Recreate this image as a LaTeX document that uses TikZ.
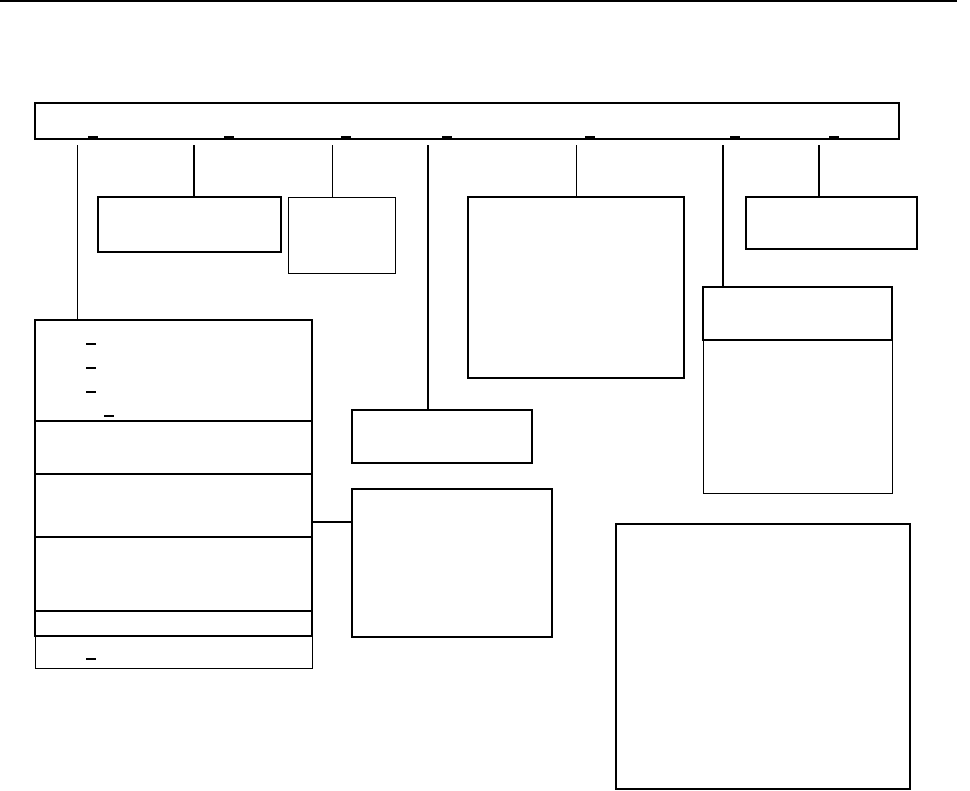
\documentclass[tikz,border=0pt]{standalone}
\usetikzlibrary{positioning}
\begin{document}
\begin{tikzpicture}[x=0.025cm,y=-0.025cm,
  box/.style={draw, line width=1.2pt, anchor=north west, inner sep=0pt, outer sep=0pt},
  thinbox/.style={box, line width=0.7pt},
  link/.style={line width=0.7pt},
  thicklink/.style={line width=1.3pt},
  blank/.style={line width=1.3pt}]
\useasboundingbox (0,0) rectangle (970,790);
\draw[line width=1.6pt] (0,1) -- (957,1);
\node[box, minimum width=21.6cm, minimum height=0.9cm] (top) at (35,103) {};
\node[box, minimum width=4.575cm, minimum height=1.375cm] (b2) at (98,197) {};
\node[thinbox, minimum width=2.675cm, minimum height=1.9cm] (b3) at (288,197) {};
\node[box, minimum width=4.5cm, minimum height=1.325cm] (b4) at (352,410) {};
\node[box, minimum width=5.4cm, minimum height=4.525cm] (b5) at (468,197) {};
\node[box, minimum width=4.725cm, minimum height=1.325cm] (b6a) at (703,287) {};
\node[thinbox, minimum width=4.725cm, minimum height=3.825cm, below=0pt of b6a.south west, anchor=north west] (b6b) {};
\node[box, minimum width=4.275cm, minimum height=1.3cm] (b7) at (746,197) {};
\node[box, minimum width=6.925cm, minimum height=2.525cm] (l1) at (35,320) {};
\node[box, minimum width=6.925cm, minimum height=1.325cm, below=0pt of l1.south west, anchor=north west] (l2) {};
\node[box, minimum width=6.925cm, minimum height=1.575cm, below=0pt of l2.south west, anchor=north west] (l3) {};
\node[box, minimum width=6.925cm, minimum height=1.85cm, below=0pt of l3.south west, anchor=north west] (l4) {};
\node[box, minimum width=6.925cm, minimum height=0.625cm, below=0pt of l4.south west, anchor=north west] (l5) {};
\node[thinbox, minimum width=6.925cm, minimum height=0.8cm, below=0pt of l5.south west, anchor=north west] (l6) {};
\node[box, minimum width=5.0cm, minimum height=3.7cm] (b8) at (352,489) {};
\node[box, minimum width=7.35cm, minimum height=6.625cm] (b9) at (616,524) {};
% connectors from the top bar
\coordinate (t1) at (77,145);
\coordinate (t2) at (194,145);
\coordinate (t3) at (332,145);
\coordinate (t4) at (428,145);
\coordinate (t5) at (576,145);
\coordinate (t6) at (723,145);
\coordinate (t7) at (819,145);
\draw[link] (t1) -- (t1 |- l1.north);
\draw[thicklink] (t2) -- (t2 |- b2.north);
\draw[link] (t3) -- (t3 |- b3.north);
\draw[thicklink] (t4) -- (t4 |- b4.north);
\draw[link] (t5) -- (t5 |- b5.north);
\draw[thicklink] (t6) -- (t6 |- b6a.north);
\draw[thicklink] (t7) -- (t7 |- b7.north);
\coordinate (s1) at (312,522);
\draw[thicklink] (s1) -- (s1 -| b8.west);
% underscores
\foreach \x in {93,229,346,447,590,735,834}
  \draw[blank] (\x-5,137) -- (\x+5,137);
\foreach \x/\y in {91/344,91/368,91/392,109/416,91/659}
  \draw[blank] (\x-5,\y) -- (\x+5,\y);
\end{tikzpicture}
\end{document}
